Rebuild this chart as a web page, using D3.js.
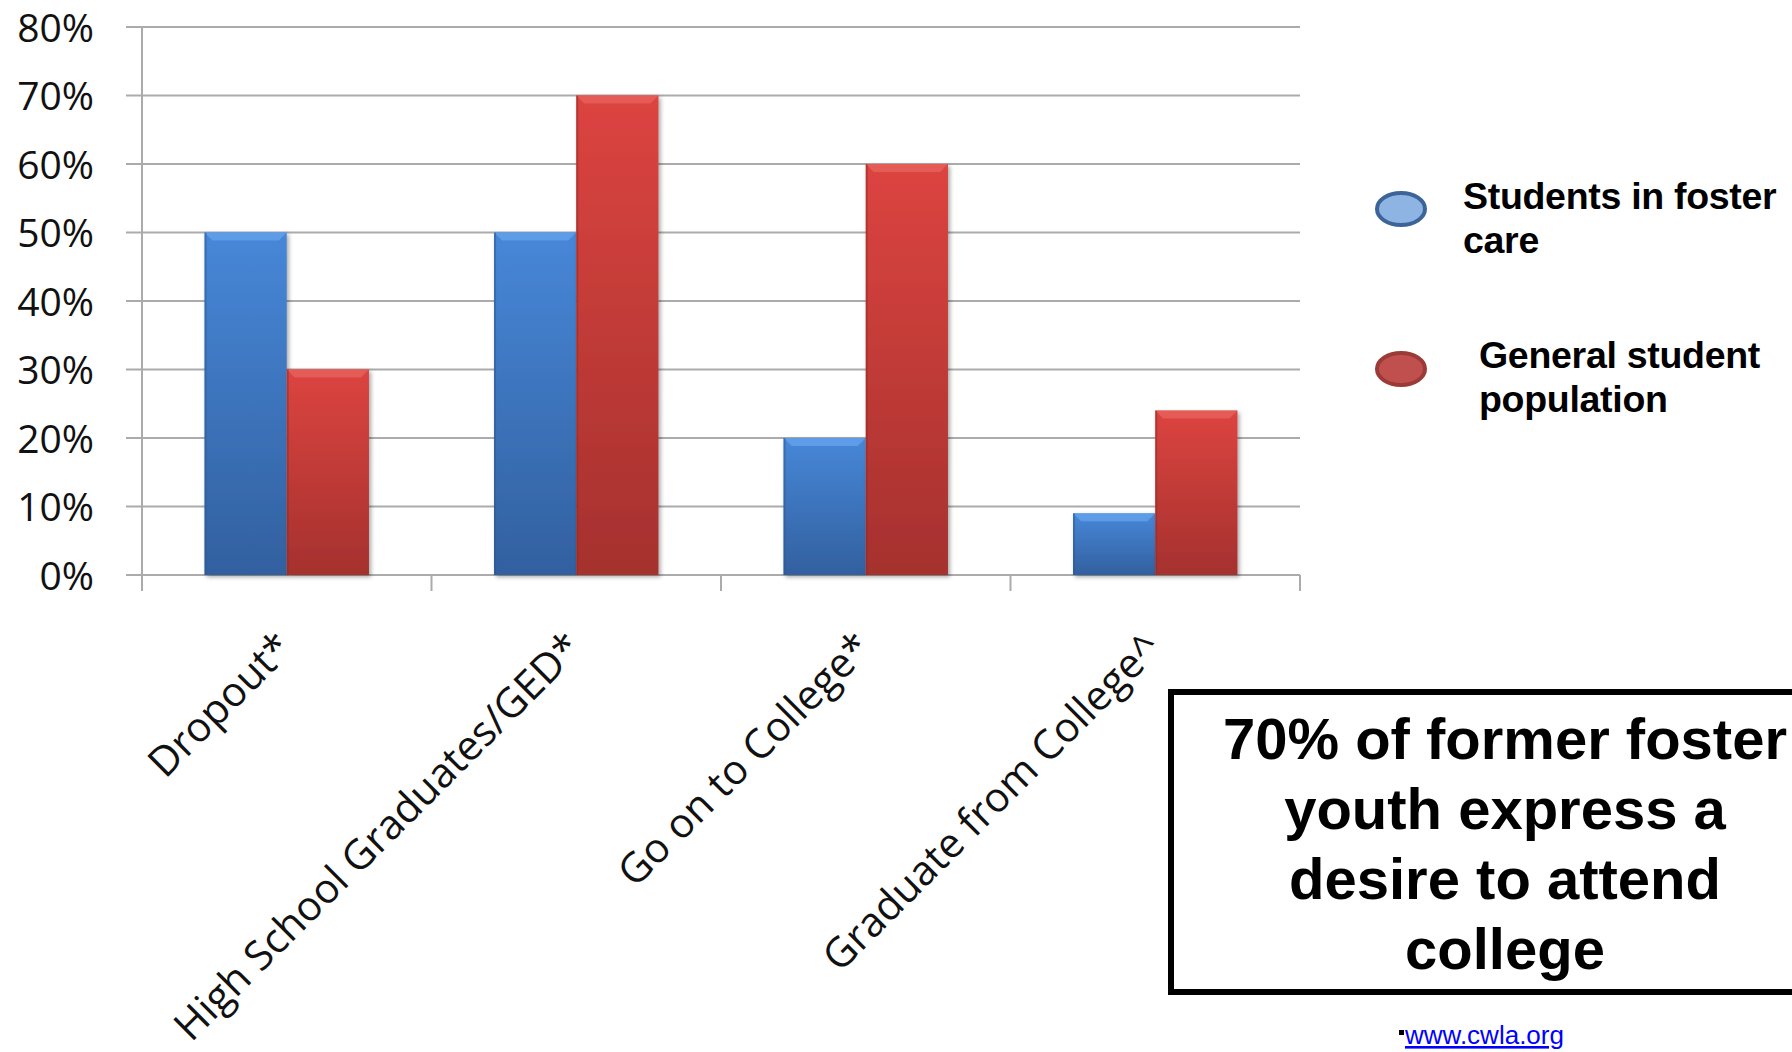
<html lang="en">
<head>
<meta charset="UTF-8">
<script src="https://d3js.org/d3.v7.min.js"></script>
<style>
  body { margin: 0; background: #fff; }
</style>
</head>
<body>
<script type="text/javascript">

let categories = ["Dropout*", "High School Graduates/GED*", "Go on to College*", "Graduate from College^"];
let fosterValues = [0.50, 0.50, 0.20, 0.09];
let generalValues = [0.30, 0.70, 0.60, 0.24];
let seriesNames = ["Students in foster care", "General student population"];
let yTicks = [0, 0.1, 0.2, 0.3, 0.4, 0.5, 0.6, 0.7, 0.8];
let calloutLines = ["70% of former foster", "youth express a", "desire to attend", "college"];
let sourceText = "www.cwla.org";

let createChart = function () {
    let width = 1792, height = 1052;

    let svg = d3.select("body").append("svg")
        .attr("width", width)
        .attr("height", height);

    let defs = svg.append("defs");

    let grad = function (id, top, bottom) {
        let g = defs.append("linearGradient").attr("id", id)
            .attr("x1", 0).attr("y1", 0).attr("x2", 0).attr("y2", 1);
        g.append("stop").attr("offset", "0%").attr("stop-color", top);
        g.append("stop").attr("offset", "100%").attr("stop-color", bottom);
    };
    grad("gBlue", "#4787d8", "#32609f");
    grad("gRed", "#dc4440", "#a5312e");

    let shadow = defs.append("filter").attr("id", "shadow")
        .attr("x", "-20%").attr("y", "-10%").attr("width", "140%").attr("height", "120%");
    shadow.append("feDropShadow").attr("dx", 2).attr("dy", 2)
        .attr("stdDeviation", 2).attr("flood-color", "#000").attr("flood-opacity", 0.35);

    let x = d3.scaleBand()
        .domain(categories)
        .range([142, 1300])
        .paddingInner(0.432)
        .paddingOuter(0.216);

    let xs = d3.scaleBand()
        .domain([0, 1])
        .range([0, x.bandwidth()]);

    let y = d3.scaleLinear()
        .domain([0, 0.8])
        .range([575, 27]);

    // gridlines + y ticks
    svg.append("g")
        .selectAll("line")
        .data(yTicks)
        .join("line")
        .attr("x1", 126).attr("x2", 1300)
        .attr("y1", d => y(d)).attr("y2", d => y(d))
        .attr("stroke", "#ababab").attr("stroke-width", 2);

    svg.append("g")
        .selectAll("text")
        .data(yTicks)
        .join("text")
        .attr("x", 94)
        .attr("y", d => y(d))
        .attr("dy", "0.38em")
        .attr("text-anchor", "end")
        .attr("font-family", "Open Sans")
        .attr("font-size", 39)
        .attr("fill", "#111")
        .text(d => d3.format(".0%")(d));

    // y axis line
    svg.append("line")
        .attr("x1", 142).attr("x2", 142)
        .attr("y1", y(0.8)).attr("y2", 591)
        .attr("stroke", "#ababab").attr("stroke-width", 2);

    // category tick marks
    let bounds = categories.map(c => x(c) - x.step() * x.paddingInner() / 2);
    bounds[0] = 142;
    bounds.push(1300);
    svg.append("g")
        .selectAll("line")
        .data(bounds)
        .join("line")
        .attr("x1", d => d).attr("x2", d => d)
        .attr("y1", y(0)).attr("y2", 591)
        .attr("stroke", "#ababab").attr("stroke-width", 2);

    // bars
    let rows = [];
    categories.forEach(function (c, i) {
        rows.push({ cat: c, s: 0, v: fosterValues[i] });
        rows.push({ cat: c, s: 1, v: generalValues[i] });
    });

    let bar = svg.append("g")
        .selectAll("g")
        .data(rows)
        .join("g")
        .attr("transform", d => `translate(${x(d.cat) + xs(d.s)},${y(d.v)})`);

    bar.append("rect")
        .attr("width", xs.bandwidth())
        .attr("height", d => y(0) - y(d.v))
        .attr("fill", d => d.s === 0 ? "url(#gBlue)" : "url(#gRed)")
        .attr("filter", "url(#shadow)");

    // top bevel
    bar.append("path")
        .attr("d", function () {
            let w = xs.bandwidth();
            return `M0,0 L${w},0 L${w - 8},8 L8,8 Z`;
        })
        .attr("fill", d => d.s === 0 ? "#63a0ea" : "#e65f5b")
        .attr("opacity", 0.85);

    // side edges
    bar.append("rect")
        .attr("width", 2)
        .attr("height", d => y(0) - y(d.v))
        .attr("fill", d => d.s === 0 ? "#2b5690" : "#8f2825")
        .attr("opacity", 0.5);

    // category labels
    svg.append("g")
        .selectAll("text")
        .data(categories)
        .join("text")
        .attr("transform", d => `translate(${x(d) + x.bandwidth() / 2 + 8},${650}) rotate(-45)`)
        .attr("text-anchor", "end")
        .attr("font-family", "Open Sans")
        .attr("font-size", 41)
        .attr("fill", "#111")
        .text(d => d);

    // legend
    let legend = svg.append("g")
        .selectAll("g")
        .data(seriesNames)
        .join("g")
        .attr("transform", (d, i) => `translate(1401,${209 + i * 160})`);

    legend.append("ellipse")
        .attr("rx", 24).attr("ry", 16)
        .attr("fill", (d, i) => i === 0 ? "#8db4e3" : "#c0504d")
        .attr("stroke", (d, i) => i === 0 ? "#3d6499" : "#9c3a37")
        .attr("stroke-width", 4);

    let legendLines = [["Students in foster", "care"], ["General student", "population"]];
    legend.append("text")
        .attr("font-family", "Liberation Sans")
        .attr("font-weight", "bold")
        .attr("font-size", 37.5)
        .attr("letter-spacing", -0.3)
        .attr("fill", "#000")
        .selectAll("tspan")
        .data((d, i) => legendLines[i].map(t => ({ t: t, i: i })))
        .join("tspan")
        .attr("x", d => d.i === 0 ? 62 : 78)
        .attr("y", (d, j) => j * 44 + (d.i === 0 ? 0 : -1))
        .text(d => d.t);

    // callout box
    svg.append("rect")
        .attr("x", 1171).attr("y", 692)
        .attr("width", 700).attr("height", 300)
        .attr("fill", "none")
        .attr("stroke", "#000")
        .attr("stroke-width", 6);

    svg.append("g")
        .selectAll("text")
        .data(calloutLines)
        .join("text")
        .attr("x", 1505)
        .attr("y", (d, i) => 759 + i * 70)
        .attr("text-anchor", "middle")
        .attr("font-family", "Liberation Sans")
        .attr("font-weight", "bold")
        .attr("font-size", 58)
        .attr("fill", "#000")
        .text(d => d);

    // source
    svg.append("rect")
        .attr("x", 1399).attr("y", 1030)
        .attr("width", 5).attr("height", 5)
        .attr("fill", "#000");

    svg.append("text")
        .attr("x", 1405).attr("y", 1044)
        .attr("font-family", "Liberation Sans")
        .attr("font-size", 26)
        .attr("fill", "#0000ff")
        .attr("text-decoration", "underline")
        .text(sourceText);
};

createChart();
</script>
</body>
</html>
